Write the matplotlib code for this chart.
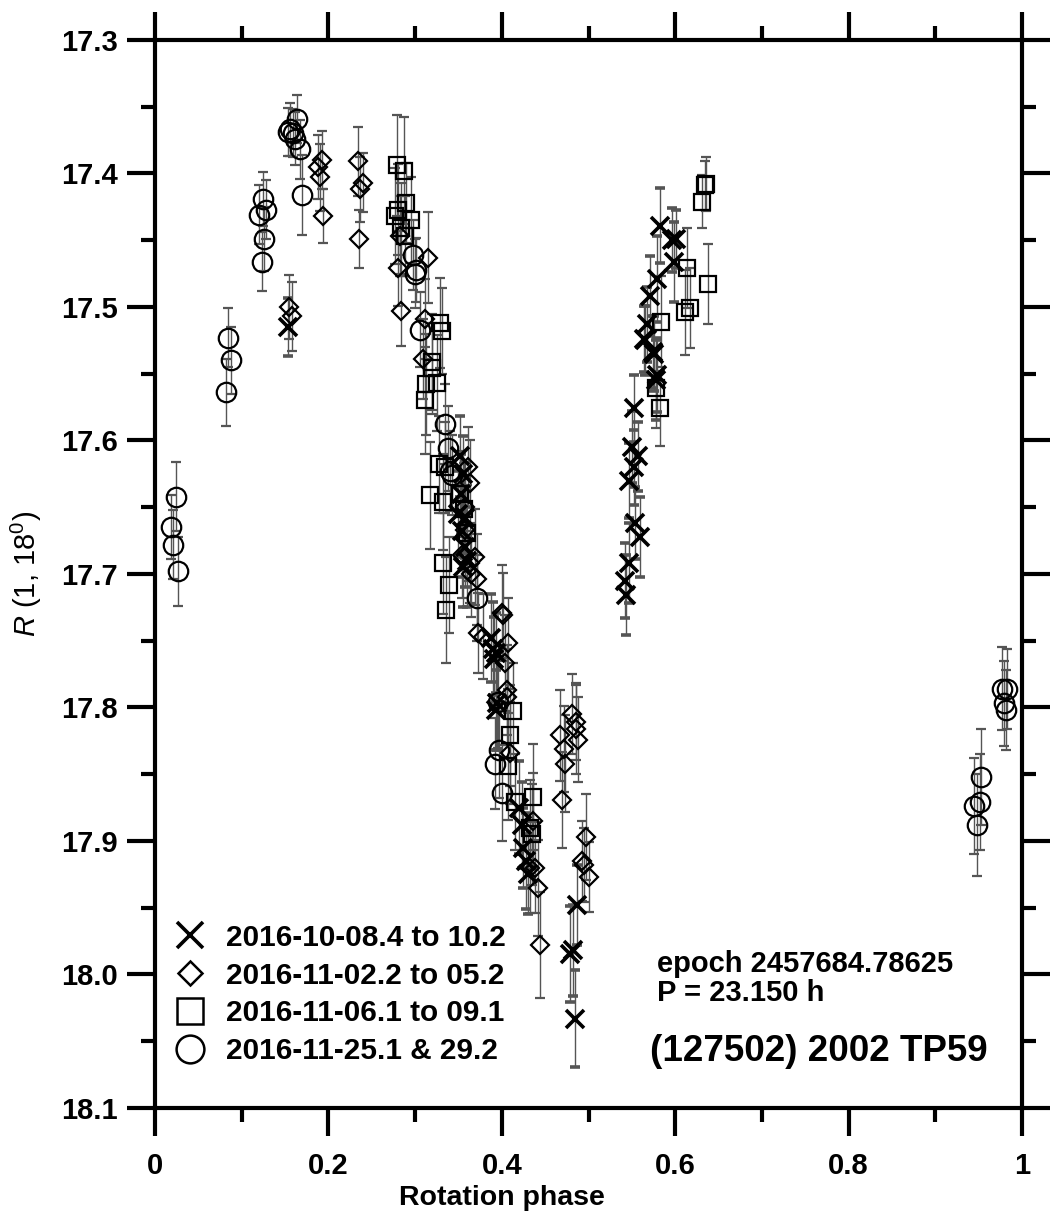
import matplotlib
matplotlib.use("Agg")
import matplotlib.pyplot as plt
from matplotlib.lines import Line2D
from matplotlib.ticker import MultipleLocator, FormatStrFormatter

plt.rcParams['font.family'] = ['Liberation Sans', 'DejaVu Sans']
plt.rcParams['mathtext.fontset'] = 'custom'
plt.rcParams['mathtext.rm'] = 'Liberation Sans'
plt.rcParams['mathtext.it'] = 'Liberation Sans:italic'
plt.rcParams['mathtext.bf'] = 'Liberation Sans:bold'

# ---- data: 2016-10-08.4 to 10.2 (crosses)
cross_phase = [0.153, 0.352, 0.355, 0.353, 0.350, 0.357, 0.354, 0.357, 0.360, 0.355,
               0.388, 0.390, 0.393, 0.391, 0.395, 0.393,
               0.420, 0.423, 0.425, 0.428, 0.430,
               0.479, 0.482, 0.487, 0.484,
               0.542, 0.543, 0.547, 0.547, 0.550, 0.552, 0.552, 0.557, 0.554, 0.559,
               0.564, 0.565, 0.567, 0.571, 0.574, 0.575, 0.578, 0.579, 0.579, 0.582,
               0.599, 0.601, 0.596]
cross_mag = [17.515, 17.612, 17.625, 17.640, 17.655, 17.658, 17.668, 17.680, 17.690, 17.695,
             17.748, 17.756, 17.759, 17.764, 17.797, 17.802,
             17.875, 17.888, 17.905, 17.915, 17.925,
             17.985, 17.982, 17.948, 18.033,
             17.705, 17.716, 17.692, 17.630, 17.605, 17.576, 17.620, 17.612, 17.662, 17.672,
             17.524, 17.525, 17.513, 17.492, 17.534, 17.535, 17.555, 17.479, 17.551, 17.439,
             17.466, 17.449, 17.450]
cross_err = [0.022, 0.030, 0.028, 0.030, 0.032, 0.030, 0.034, 0.030, 0.035, 0.030,
             0.033, 0.035, 0.030, 0.032, 0.035, 0.030,
             0.035, 0.032, 0.030, 0.036, 0.030,
             0.036, 0.034, 0.030, 0.036,
             0.028, 0.030, 0.030, 0.028, 0.027, 0.025, 0.028, 0.026, 0.027, 0.030,
             0.025, 0.026, 0.028, 0.030, 0.027, 0.028, 0.030, 0.032, 0.028, 0.028,
             0.030, 0.022, 0.024]

# ---- data: 2016-11-02.2 to 05.2 (diamonds)
diam_phase = [0.155, 0.158,
              0.188, 0.193, 0.190, 0.194,
              0.234, 0.240, 0.236, 0.235,
              0.282, 0.280, 0.284, 0.315, 0.311, 0.309,
              0.361, 0.363, 0.357, 0.357, 0.354, 0.369, 0.363, 0.371, 0.365,
              0.373, 0.378, 0.400, 0.407, 0.404, 0.406, 0.406, 0.410, 0.401,
              0.436, 0.438, 0.442, 0.444, 0.433,
              0.467, 0.472, 0.473, 0.481, 0.486, 0.485, 0.488, 0.469,
              0.493, 0.495, 0.497, 0.500]
diam_mag = [17.500, 17.507,
            17.395, 17.390, 17.403, 17.432,
            17.391, 17.407, 17.412, 17.449,
            17.447, 17.471, 17.503, 17.463, 17.509, 17.539,
            17.620, 17.632, 17.650, 17.667, 17.686, 17.687, 17.692, 17.704, 17.700,
            17.744, 17.747, 17.729, 17.752, 17.767, 17.787, 17.792, 17.834, 17.731,
            17.885, 17.920, 17.935, 17.978, 17.920,
            17.821, 17.831, 17.842, 17.805, 17.811, 17.816, 17.824, 17.869,
            17.915, 17.918, 17.897, 17.927]
diam_err = [0.024, 0.026,
            0.024, 0.022, 0.025, 0.020,
            0.026, 0.022, 0.024, 0.022,
            0.030, 0.028, 0.026, 0.034, 0.030, 0.030,
            0.030, 0.032, 0.034, 0.030, 0.032, 0.036, 0.030, 0.034, 0.032,
            0.030, 0.032, 0.036, 0.034, 0.036, 0.034, 0.036, 0.038, 0.032,
            0.036, 0.034, 0.036, 0.040, 0.034,
            0.034, 0.032, 0.036, 0.030, 0.028, 0.034, 0.032, 0.036,
            0.030, 0.028, 0.032, 0.026]

# ---- data: 2016-11-06.1 to 09.1 (squares)
sq_phase = [0.279, 0.287, 0.289, 0.280, 0.277, 0.295, 0.284, 0.288,
            0.329, 0.331, 0.319, 0.319, 0.325, 0.313, 0.311,
            0.327, 0.334, 0.317, 0.332, 0.332, 0.339, 0.336,
            0.356, 0.360, 0.352,
            0.413, 0.409, 0.407, 0.415, 0.436, 0.432, 0.435,
            0.578, 0.582, 0.584, 0.611, 0.617, 0.614, 0.638, 0.631, 0.634, 0.636]
sq_mag = [17.394, 17.398, 17.422, 17.427, 17.432, 17.435, 17.441, 17.447,
          17.512, 17.518, 17.541, 17.546, 17.557, 17.558, 17.570,
          17.618, 17.620, 17.641, 17.646, 17.692, 17.708, 17.727,
          17.651, 17.669, 17.640,
          17.803, 17.821, 17.844, 17.871, 17.867, 17.890, 17.895,
          17.561, 17.576, 17.511, 17.504, 17.501, 17.471, 17.483, 17.421, 17.409, 17.408]
sq_err = [0.038, 0.040, 0.030, 0.034, 0.036, 0.032, 0.034, 0.030,
          0.034, 0.032, 0.036, 0.034, 0.036, 0.038, 0.040,
          0.036, 0.034, 0.040, 0.036, 0.038, 0.036, 0.040,
          0.034, 0.036, 0.032,
          0.036, 0.038, 0.040, 0.036, 0.040, 0.036, 0.038,
          0.030, 0.028, 0.034, 0.032, 0.030, 0.030, 0.030, 0.020, 0.018, 0.020]

# ---- data: 2016-11-25.1 & 29.2 (circles)
circ_phase = [0.019, 0.021, 0.024, 0.026,
              0.0815, 0.084, 0.088,
              0.125, 0.128, 0.120, 0.126, 0.123,
              0.164, 0.156, 0.159, 0.161, 0.167, 0.169, 0.153,
              0.298, 0.301, 0.300, 0.306,
              0.334, 0.338, 0.340, 0.342,
              0.371,
              0.396, 0.397, 0.392, 0.400,
              0.945, 0.948, 0.951, 0.953,
              0.977, 0.983, 0.979, 0.981]
circ_mag = [17.665, 17.678, 17.642, 17.698,
            17.564, 17.523, 17.540,
            17.419, 17.427, 17.431, 17.449, 17.466,
            17.359, 17.367, 17.370, 17.374, 17.382, 17.416, 17.369,
            17.461, 17.472, 17.475, 17.517,
            17.588, 17.606, 17.623, 17.626,
            17.718,
            17.796, 17.832, 17.842, 17.864,
            17.874, 17.888, 17.871, 17.852,
            17.786, 17.786, 17.797, 17.802]
circ_err = [0.024, 0.026, 0.026, 0.026,
            0.025, 0.022, 0.025,
            0.020, 0.022, 0.022, 0.024, 0.022,
            0.018, 0.020, 0.018, 0.020, 0.022, 0.030, 0.018,
            0.026, 0.024, 0.026, 0.028,
            0.030, 0.032, 0.030, 0.030,
            0.032,
            0.034, 0.036, 0.034, 0.036,
            0.036, 0.038, 0.036, 0.036,
            0.031, 0.030, 0.032, 0.030]

labels = ["2016-10-08.4 to 10.2", "2016-11-02.2 to 05.2",
          "2016-11-06.1 to 09.1", "2016-11-25.1 & 29.2"]
yticks = [17.3, 17.4, 17.5, 17.6, 17.7, 17.8, 17.9, 18.0, 18.1]
xticks = [0, 0.2, 0.4, 0.6, 0.8, 1]
xtick_labels = ["0", "0.2", "0.4", "0.6", "0.8", "1"]

fig = plt.figure(figsize=(10.51, 12.19), dpi=100)
ax = fig.add_axes([0.1475, 0.0911, 0.8249, 0.8761])

ecol = '#555555'
common = dict(linestyle='none', ecolor=ecol, elinewidth=1.0, capsize=3.8, capthick=1.0)

ax.errorbar(circ_phase, circ_mag, yerr=circ_err, marker='o', ms=14, mfc='none',
            mec='black', mew=1.6, **common)
ax.errorbar(sq_phase, sq_mag, yerr=sq_err, marker='s', ms=12, mfc='none',
            mec='black', mew=1.6, **common)
ax.errorbar(diam_phase, diam_mag, yerr=diam_err, marker='D', ms=9.5, mfc='none',
            mec='black', mew=1.6, **common)
ax.errorbar(cross_phase, cross_mag, yerr=cross_err, marker='x', ms=13, mfc='none',
            mec='black', mew=2.6, **common)

ax.set_xlim(0, 1)
ax.set_ylim(18.1, 17.3)
ax.set_xticks(xticks)
ax.set_xticklabels(xtick_labels)
ax.xaxis.set_minor_locator(MultipleLocator(0.1))
ax.set_yticks(yticks)
ax.yaxis.set_major_formatter(FormatStrFormatter('%.1f'))
ax.yaxis.set_minor_locator(MultipleLocator(0.05))

for s in ax.spines.values():
    s.set_linewidth(3)
ax.tick_params(which='both', direction='out', width=3,
               top=True, right=True, labeltop=False, labelright=False)
ax.tick_params(which='major', length=20)
ax.tick_params(which='minor', length=10)
ax.tick_params(axis='y', which='major', pad=7)
ax.tick_params(axis='x', which='major', pad=12)
for lab in ax.get_xticklabels() + ax.get_yticklabels():
    lab.set_fontsize(21)
    lab.set_fontweight('bold')

ax.set_xlabel("Rotation phase", fontsize=20.5, fontweight='bold', labelpad=2)
ax.xaxis.set_label_coords(0.40, -0.072)
ax.set_ylabel("$R$ (1, 18$^0$)", fontsize=21, labelpad=12)

handles = [
    Line2D([], [], linestyle='none', marker='x', ms=19, mec='black', mew=2.6),
    Line2D([], [], linestyle='none', marker='D', ms=12, mfc='none', mec='black', mew=1.8),
    Line2D([], [], linestyle='none', marker='s', ms=19, mfc='none', mec='black', mew=1.8),
    Line2D([], [], linestyle='none', marker='o', ms=20, mfc='none', mec='black', mew=1.8),
]
leg = ax.legend(handles, labels, loc='upper left', bbox_to_anchor=(-0.004, 0.192),
                frameon=False, handlelength=1.2, handletextpad=0.62,
                labelspacing=0.33, borderaxespad=0.3,
                prop={'size': 21.4, 'weight': 'bold'})

ax.text(0.579, 17.992, "epoch 2457684.78625", fontsize=21, fontweight='bold', va='center')
ax.text(0.579, 18.014, "P = 23.150 h", fontsize=21, fontweight='bold', va='center')
ax.text(0.571, 18.058, "(127502) 2002 TP59", fontsize=26.5, fontweight='bold', va='center')

fig.savefig("out.png", dpi=100)
